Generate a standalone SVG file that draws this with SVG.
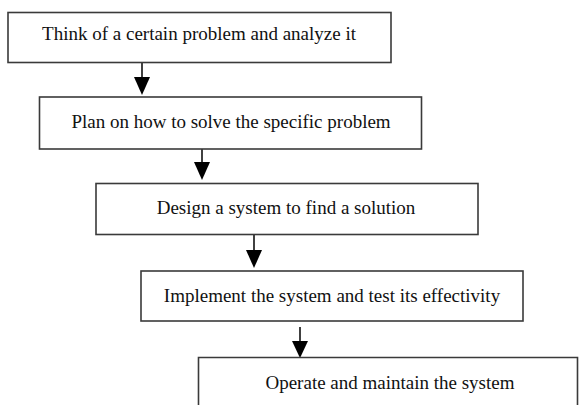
<svg xmlns="http://www.w3.org/2000/svg" width="579" height="405" viewBox="0 0 579 405">
<defs>
<style>
.box{fill:#fff;stroke:#3a3a3a;stroke-width:1.6}
.lbl{font-family:"Liberation Serif","Times New Roman",serif;font-size:19px;fill:#111;text-anchor:middle}
.conn{stroke:#111;stroke-width:1.6;fill:none}
.head{fill:#000}
</style>
</defs>
<rect width="579" height="405" fill="#fff"/>
<g id="connectors">
<line class="conn" x1="142" y1="62" x2="142" y2="80"/>
<polygon class="head" points="134,77 150,77 142,95"/>
<line class="conn" x1="202" y1="149" x2="202" y2="164"/>
<polygon class="head" points="194,162 210,162 202,180"/>
<line class="conn" x1="254" y1="234" x2="254" y2="252"/>
<polygon class="head" points="246,250 262,250 254,268"/>
<line class="conn" x1="300" y1="327" x2="300" y2="343"/>
<polygon class="head" points="292,341 308,341 300,358"/>
</g>
<g id="n1">
<rect class="box" x="8" y="12.5" width="383" height="50"/>
<text class="lbl" x="199" y="40">Think of a certain problem and analyze it</text>
</g>
<g id="n2">
<rect class="box" x="39.5" y="97" width="382" height="52"/>
<text class="lbl" x="231" y="128">Plan on how to solve the specific problem</text>
</g>
<g id="n3">
<rect class="box" x="96" y="183.5" width="382" height="51"/>
<text class="lbl" x="286" y="214">Design a system to find a solution</text>
</g>
<g id="n4">
<rect class="box" x="141" y="271" width="382" height="50"/>
<text class="lbl" x="332" y="302">Implement the system and test its effectivity</text>
</g>
<g id="n5">
<path class="box" d="M198.5,406 V357.5 H577.5 V406"/>
<text class="lbl" x="390" y="389">Operate and maintain the system</text>
</g>
</svg>
